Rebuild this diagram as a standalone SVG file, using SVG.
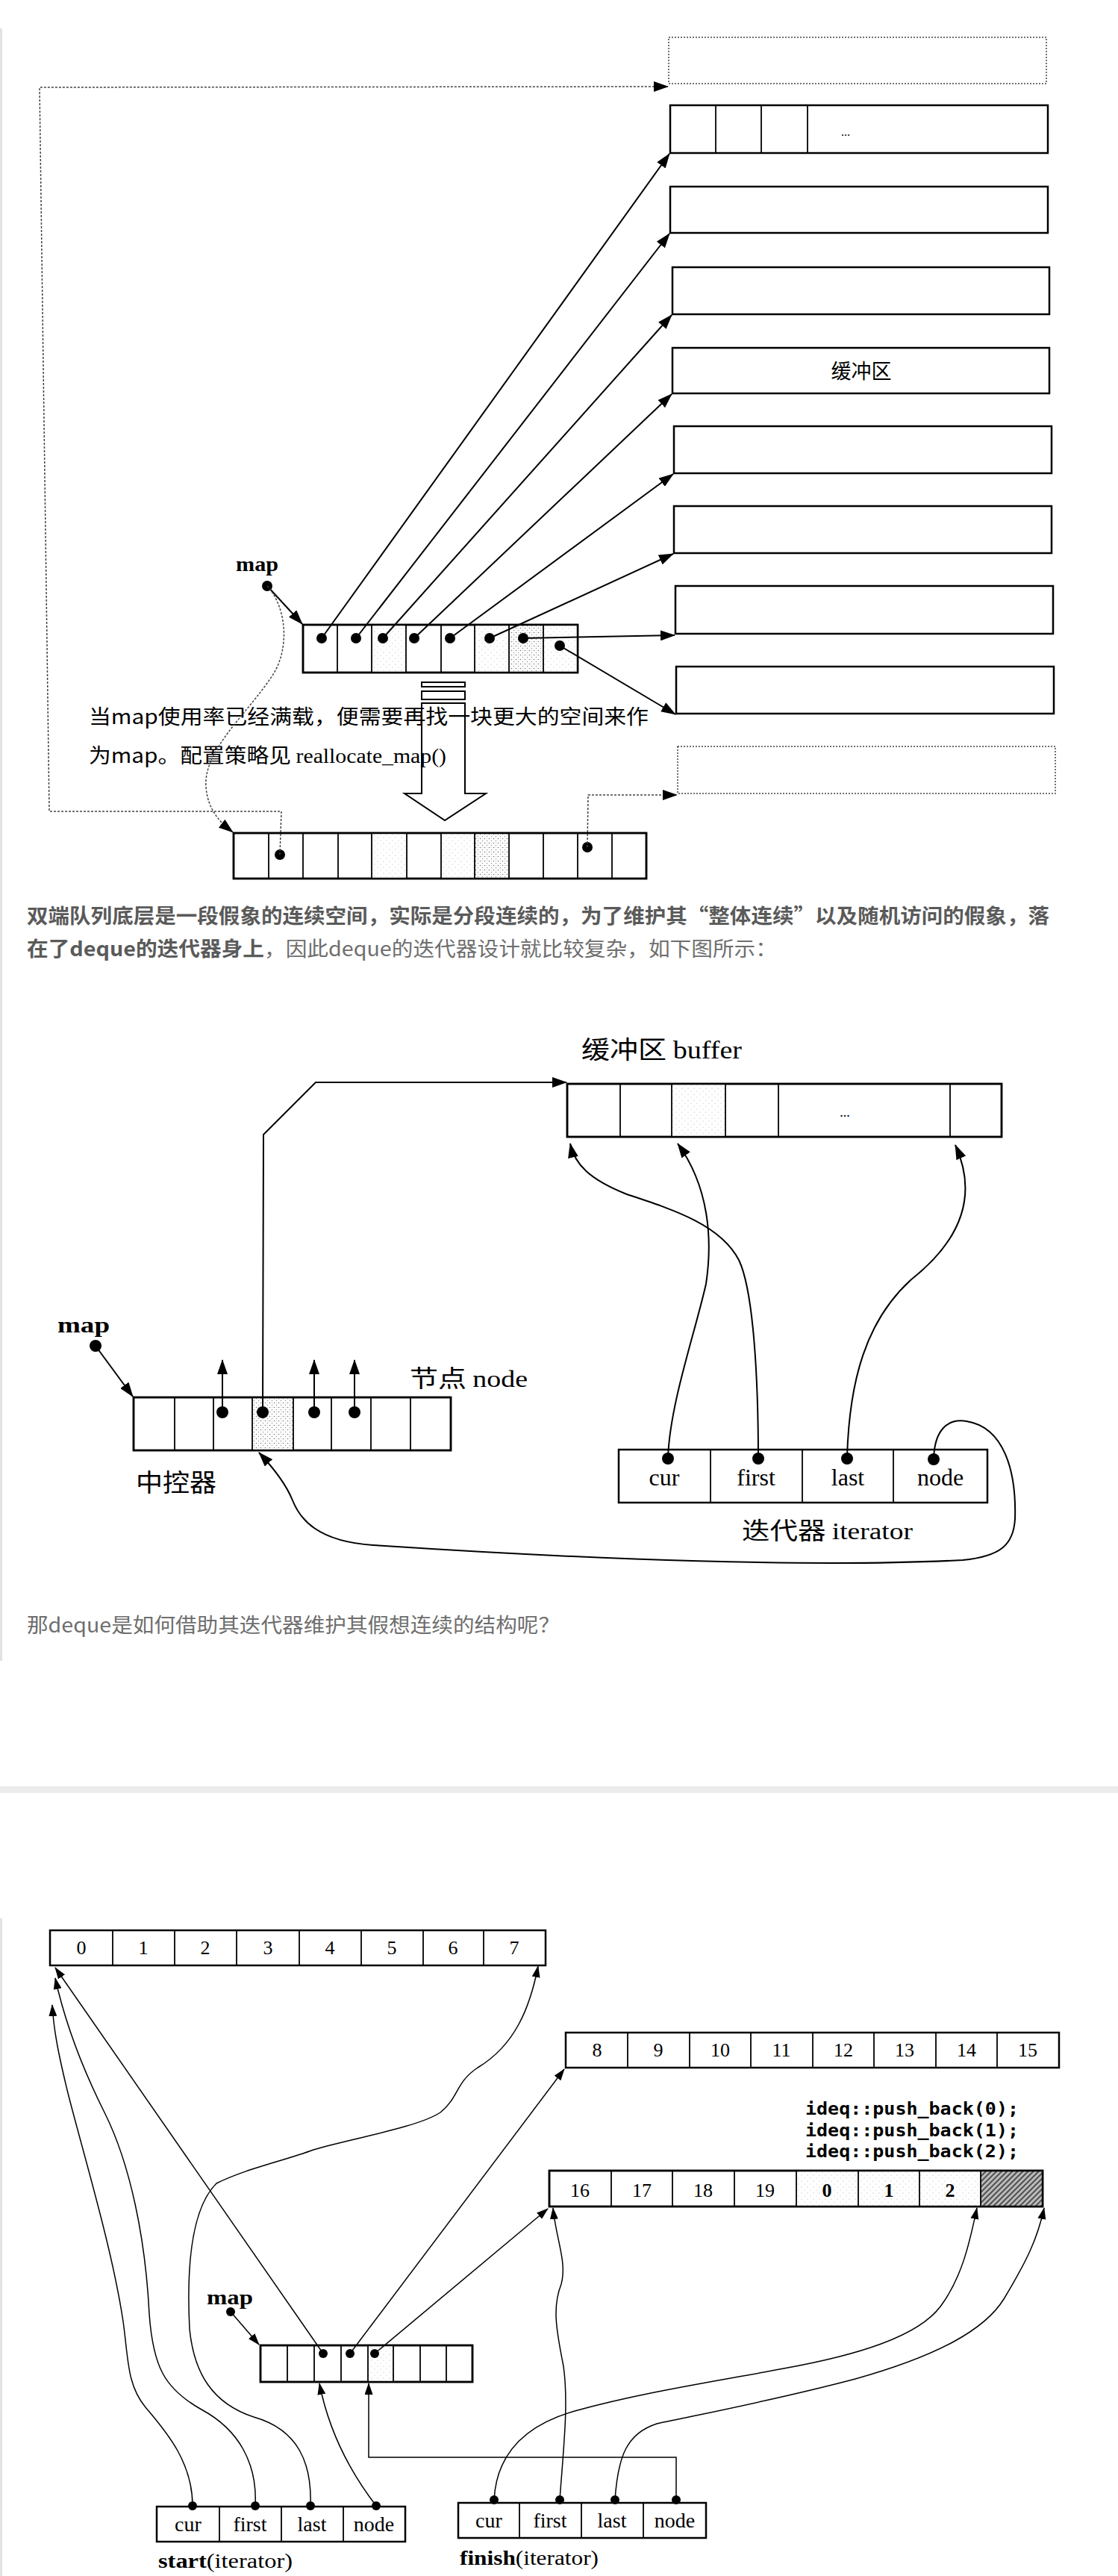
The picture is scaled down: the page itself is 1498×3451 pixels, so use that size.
<svg xmlns="http://www.w3.org/2000/svg" width="1498" height="3451" viewBox="0 0 1498 3451">
<defs>
<style>
.bx{fill:#fff;stroke:#000;stroke-width:2.5}
.cl{stroke:#000;stroke-width:1.8}
.dbx{fill:none;stroke:#444;stroke-width:1.5;stroke-dasharray:2 2}
.ln{fill:none;stroke:#000;stroke-width:2}
.ln3{fill:none;stroke:#000;stroke-width:1.5}
.dl{fill:none;stroke:#444;stroke-width:1.5;stroke-dasharray:3 2}
.dot{fill:#000}
.ser{font-family:'Liberation Serif','Noto Sans CJK SC',serif;fill:#000}
.cjk{font-family:'Noto Sans CJK SC','Liberation Sans',sans-serif;fill:#000}
.mono{font-family:'DejaVu Sans Mono','Liberation Mono',monospace;fill:#000;font-weight:bold}
.para{font-family:'Noto Sans CJK SC','Liberation Sans',sans-serif;font-size:27px;fill:#6e6e6e}
.b{font-weight:bold;fill:#5a5a5a}
</style>
<marker id="ah" markerUnits="userSpaceOnUse" markerWidth="20" markerHeight="14" refX="19" refY="7" orient="auto"><path d="M0,0 L20,7 L0,14 z" fill="#000"/></marker>
<marker id="ahs" markerUnits="userSpaceOnUse" markerWidth="16" markerHeight="11" refX="15" refY="5.5" orient="auto"><path d="M0,0 L16,5.5 L0,11 z" fill="#000"/></marker>
<pattern id="stip" width="6" height="6" patternUnits="userSpaceOnUse"><rect width="6" height="6" fill="#fff"/><circle cx="1.5" cy="1.5" r="0.8" fill="#777"/><circle cx="4.5" cy="4.5" r="0.8" fill="#999"/><circle cx="4.5" cy="1.5" r="0.5" fill="#bbb"/></pattern>
<pattern id="lstip" width="8" height="8" patternUnits="userSpaceOnUse"><rect width="8" height="8" fill="#fff"/><circle cx="2" cy="2" r="0.6" fill="#aaa"/><circle cx="6" cy="6" r="0.6" fill="#bbb"/></pattern>
<pattern id="hatch" width="5" height="5" patternUnits="userSpaceOnUse" patternTransform="rotate(45)"><rect width="5" height="5" fill="#bbb"/><line x1="1" y1="0" x2="1" y2="5" stroke="#333" stroke-width="1.6"/></pattern>
</defs>
<rect width="1498" height="3451" fill="#fff"/>

<!-- page chrome -->
<g id="page">
<rect x="0" y="38" width="3" height="2187" fill="#e2e2e2"/>
<rect x="0" y="2570" width="3" height="881" fill="#e2e2e2"/>
<rect x="0" y="2393" width="1498" height="9" fill="#ececec"/>
<text class="para" x="36" y="1237" textLength="1370" lengthAdjust="spacingAndGlyphs"><tspan class="b">双端队列底层是一段假象的连续空间，实际是分段连续的，为了维护其“整体连续”以及随机访问的假象，落</tspan></text>
<text class="para" x="36" y="1281" textLength="1005" lengthAdjust="spacingAndGlyphs"><tspan class="b">在了deque的迭代器身上</tspan>，因此deque的迭代器设计就比较复杂，如下图所示：</text>
<text class="para" x="36" y="2187" textLength="714" lengthAdjust="spacingAndGlyphs">那deque是如何借助其迭代器维护其假想连续的结构呢？</text>
</g>

<!-- ===== Diagram 1 ===== -->
<g id="d1-buf0"><rect class="dbx" x="896" y="50" width="506" height="62"/></g>
<g id="d1-buf1"><rect class="bx" x="898" y="141" width="506" height="64"/>
<line class="cl" x1="959" y1="141" x2="959" y2="205"/><line class="cl" x1="1020" y1="141" x2="1020" y2="205"/><line class="cl" x1="1082" y1="141" x2="1082" y2="205"/>
<text class="ser" x="1127" y="182" font-size="16">...</text></g>
<g id="d1-buf2"><rect class="bx" x="898" y="250" width="506" height="62"/></g>
<g id="d1-buf3"><rect class="bx" x="901" y="358" width="505" height="63"/></g>
<g id="d1-buf4"><rect class="bx" x="901" y="466" width="505" height="61"/>
<text class="cjk" x="1154" y="507" font-size="27" text-anchor="middle">缓冲区</text></g>
<g id="d1-buf5"><rect class="bx" x="903" y="571" width="506" height="63"/></g>
<g id="d1-buf6"><rect class="bx" x="903" y="678" width="506" height="63"/></g>
<g id="d1-buf7"><rect class="bx" x="905" y="785" width="506" height="64"/></g>
<g id="d1-buf8"><rect class="bx" x="906" y="893" width="506" height="63"/></g>
<g id="d1-buf9"><rect class="dbx" x="908" y="1000" width="506" height="63"/></g>

<g id="d1-map">
<text class="ser" x="316" y="765" font-size="28" font-weight="bold" textLength="57" lengthAdjust="spacingAndGlyphs">map</text>
<circle class="dot" cx="358" cy="785" r="7"/>
</g>
<g id="d1-mapArray">
<rect class="bx" x="406" y="837" width="368" height="64"/>
<rect x="498" y="838" width="46" height="62" fill="url(#lstip)"/>
<rect x="636" y="838" width="46" height="62" fill="url(#lstip)"/>
<rect x="682" y="838" width="46" height="62" fill="url(#stip)"/>
<rect x="728" y="838" width="46" height="62" fill="url(#lstip)"/>
<rect x="406" y="837" width="368" height="64" fill="none" stroke="#000" stroke-width="2.5"/>
<line class="cl" x1="452" y1="837" x2="452" y2="901"/><line class="cl" x1="498" y1="837" x2="498" y2="901"/><line class="cl" x1="544" y1="837" x2="544" y2="901"/><line class="cl" x1="591" y1="837" x2="591" y2="901"/><line class="cl" x1="636" y1="837" x2="636" y2="901"/><line class="cl" x1="682" y1="837" x2="682" y2="901"/><line class="cl" x1="728" y1="837" x2="728" y2="901"/>
<circle class="dot" cx="431" cy="855" r="7"/><circle class="dot" cx="477" cy="855" r="7"/><circle class="dot" cx="513" cy="855" r="7"/><circle class="dot" cx="555" cy="855" r="7"/><circle class="dot" cx="603" cy="855" r="7"/><circle class="dot" cx="656" cy="855" r="7"/><circle class="dot" cx="701" cy="855" r="7"/><circle class="dot" cx="750" cy="865" r="7"/>
</g>

<g id="d1-bigArrow">
<rect x="565" y="914" width="58" height="6" fill="#fff" stroke="#000" stroke-width="2"/>
<rect x="565" y="926" width="58" height="11" fill="#fff" stroke="#000" stroke-width="2"/>
<path d="M565,942 L623,942 L623,1063 L651,1063 L596,1099 L542,1063 L565,1063 Z" fill="#fff" stroke="#000" stroke-width="2"/>
</g>

<g id="d1-note">
<text class="cjk" x="119" y="970" font-size="27" textLength="750" lengthAdjust="spacingAndGlyphs">当map使用率已经满载，便需要再找一块更大的空间来作</text>
<text x="119" y="1022" font-size="27" textLength="479" lengthAdjust="spacingAndGlyphs"><tspan class="cjk">为map。配置策略见 </tspan><tspan class="ser">reallocate_map()</tspan></text>
</g>

<g id="d1-newMap">
<rect class="bx" x="313" y="1116" width="553" height="61"/>
<rect x="498" y="1117" width="47" height="59" fill="url(#lstip)"/>
<rect x="591" y="1117" width="45" height="59" fill="url(#lstip)"/>
<rect x="636" y="1117" width="46" height="59" fill="url(#stip)"/>
<rect x="313" y="1116" width="553" height="61" fill="none" stroke="#000" stroke-width="2.5"/>
<line class="cl" x1="360" y1="1116" x2="360" y2="1177"/><line class="cl" x1="406" y1="1116" x2="406" y2="1177"/><line class="cl" x1="453" y1="1116" x2="453" y2="1177"/><line class="cl" x1="498" y1="1116" x2="498" y2="1177"/><line class="cl" x1="545" y1="1116" x2="545" y2="1177"/><line class="cl" x1="591" y1="1116" x2="591" y2="1177"/><line class="cl" x1="636" y1="1116" x2="636" y2="1177"/><line class="cl" x1="682" y1="1116" x2="682" y2="1177"/><line class="cl" x1="728" y1="1116" x2="728" y2="1177"/><line class="cl" x1="774" y1="1116" x2="774" y2="1177"/><line class="cl" x1="820" y1="1116" x2="820" y2="1177"/>
<circle class="dot" cx="375" cy="1145" r="7"/><circle class="dot" cx="787" cy="1135" r="7"/>
</g>

<g id="d1-connectors">
<line class="ln" x1="358" y1="785" x2="405" y2="836" marker-end="url(#ah)"/>
<line class="ln" x1="431" y1="855" x2="897" y2="206" marker-end="url(#ah)"/>
<line class="ln" x1="477" y1="855" x2="897" y2="313" marker-end="url(#ah)"/>
<line class="ln" x1="513" y1="855" x2="900" y2="422" marker-end="url(#ah)"/>
<line class="ln" x1="555" y1="855" x2="900" y2="528" marker-end="url(#ah)"/>
<line class="ln" x1="603" y1="855" x2="902" y2="635" marker-end="url(#ah)"/>
<line class="ln" x1="656" y1="855" x2="902" y2="742" marker-end="url(#ah)"/>
<line class="ln" x1="701" y1="855" x2="904" y2="851" marker-end="url(#ah)"/>
<line class="ln" x1="750" y1="865" x2="905" y2="957" marker-end="url(#ah)"/>
<path class="dl" d="M375,1145 L377,1087 L66,1087 L53,117 L895,116" marker-end="url(#ah)"/>
<path class="dl" d="M787,1135 L788,1065 L907,1065" marker-end="url(#ah)"/>
<path class="dl" d="M358,785 C385,815 388,870 365,905 C330,958 272,1005 276,1055 C279,1088 298,1104 312,1115" marker-end="url(#ah)"/>
</g>

<!-- ===== Diagram 2 ===== -->
<g id="d2-buffer">
<text x="779" y="1418" font-size="33" textLength="215" lengthAdjust="spacingAndGlyphs"><tspan class="cjk">缓冲区 </tspan><tspan class="ser">buffer</tspan></text>
<rect class="bx" x="760" y="1452" width="582" height="71"/>
<rect x="900" y="1453" width="72" height="69" fill="url(#lstip)"/>
<rect x="760" y="1452" width="582" height="71" fill="none" stroke="#000" stroke-width="2.5"/>
<line class="cl" x1="831" y1="1452" x2="831" y2="1523"/><line class="cl" x1="900" y1="1452" x2="900" y2="1523"/><line class="cl" x1="972" y1="1452" x2="972" y2="1523"/><line class="cl" x1="1043" y1="1452" x2="1043" y2="1523"/><line class="cl" x1="1273" y1="1452" x2="1273" y2="1523"/>
<text class="ser" x="1132" y="1496" font-size="18" text-anchor="middle">...</text>
</g>
<g id="d2-map">
<text class="ser" x="77" y="1785" font-size="30" font-weight="bold" textLength="70" lengthAdjust="spacingAndGlyphs">map</text>
<circle class="dot" cx="128" cy="1803" r="8"/>
</g>
<g id="d2-mapArray">
<rect class="bx" x="179" y="1872" width="425" height="71"/>
<rect x="338" y="1873" width="55" height="69" fill="url(#stip)"/>
<rect x="179" y="1872" width="425" height="71" fill="none" stroke="#000" stroke-width="2.5"/>
<line class="cl" x1="234" y1="1872" x2="234" y2="1943"/><line class="cl" x1="286" y1="1872" x2="286" y2="1943"/><line class="cl" x1="338" y1="1872" x2="338" y2="1943"/><line class="cl" x1="393" y1="1872" x2="393" y2="1943"/><line class="cl" x1="444" y1="1872" x2="444" y2="1943"/><line class="cl" x1="497" y1="1872" x2="497" y2="1943"/><line class="cl" x1="550" y1="1872" x2="550" y2="1943"/>
<circle class="dot" cx="298" cy="1892" r="8"/><circle class="dot" cx="352" cy="1892" r="8"/><circle class="dot" cx="421" cy="1892" r="8"/><circle class="dot" cx="475" cy="1892" r="8"/>
<text class="ser" x="549" y="1858" font-size="32" textLength="158" lengthAdjust="spacingAndGlyphs"><tspan class="cjk">节点 </tspan>node</text>
<text class="cjk" x="182" y="1998" font-size="33" textLength="108" lengthAdjust="spacingAndGlyphs">中控器</text>
</g>
<g id="d2-iterator">
<rect class="bx" x="829" y="1942" width="494" height="71"/>
<line class="cl" x1="952" y1="1942" x2="952" y2="2013"/><line class="cl" x1="1075" y1="1942" x2="1075" y2="2013"/><line class="cl" x1="1197" y1="1942" x2="1197" y2="2013"/>
<text class="ser" x="890" y="1990" font-size="32" text-anchor="middle">cur</text>
<text class="ser" x="1013" y="1990" font-size="32" text-anchor="middle">first</text>
<text class="ser" x="1136" y="1990" font-size="32" text-anchor="middle">last</text>
<text class="ser" x="1260" y="1990" font-size="32" text-anchor="middle">node</text>
<circle class="dot" cx="895" cy="1954" r="8"/><circle class="dot" cx="1016" cy="1954" r="8"/><circle class="dot" cx="1135" cy="1954" r="8"/><circle class="dot" cx="1251" cy="1955" r="8"/>
<text x="994" y="2062" font-size="32" textLength="229" lengthAdjust="spacingAndGlyphs"><tspan class="cjk">迭代器 </tspan><tspan class="ser">iterator</tspan></text>
</g>
<g id="d2-connectors">
<line class="ln" x1="128" y1="1803" x2="178" y2="1871" marker-end="url(#ah)"/>
<line class="ln" x1="298" y1="1892" x2="298" y2="1822" marker-end="url(#ah)"/>
<line class="ln" x1="421" y1="1892" x2="421" y2="1822" marker-end="url(#ah)"/>
<line class="ln" x1="475" y1="1892" x2="475" y2="1822" marker-end="url(#ah)"/>
<path class="ln" d="M352,1892 L353,1520 L423,1450 L759,1450" marker-end="url(#ah)"/>
<path class="ln" d="M895,1952 C898,1880 930,1790 946,1720 C955,1660 950,1590 908,1532" marker-end="url(#ah)"/>
<path class="ln" d="M1016,1954 C1016,1850 1010,1730 990,1688 C965,1640 900,1620 840,1600 C790,1580 770,1560 764,1532" marker-end="url(#ah)"/>
<path class="ln" d="M1135,1952 C1138,1850 1160,1770 1220,1715 C1290,1660 1310,1600 1280,1534" marker-end="url(#ah)"/>
<path class="ln" d="M1251,1955 C1252,1915 1270,1900 1295,1904 C1345,1912 1362,1970 1360,2035 C1358,2070 1340,2085 1290,2090 C1100,2100 800,2090 500,2070 C425,2065 402,2035 392,2010 C382,1985 362,1962 347,1946" marker-end="url(#ah)"/>
</g>

<!-- ===== Diagram 3 ===== -->
<g id="d3-bufA">
<rect class="bx" x="67" y="2586" width="664" height="47"/>
<line class="cl" x1="151" y1="2586" x2="151" y2="2633"/><line class="cl" x1="234" y1="2586" x2="234" y2="2633"/><line class="cl" x1="317" y1="2586" x2="317" y2="2633"/><line class="cl" x1="401" y1="2586" x2="401" y2="2633"/><line class="cl" x1="484" y1="2586" x2="484" y2="2633"/><line class="cl" x1="567" y1="2586" x2="567" y2="2633"/><line class="cl" x1="648" y1="2586" x2="648" y2="2633"/>
<g class="ser" font-size="26" text-anchor="middle">
<text x="109" y="2618">0</text><text x="192" y="2618">1</text><text x="275" y="2618">2</text><text x="359" y="2618">3</text><text x="442" y="2618">4</text><text x="525" y="2618">5</text><text x="607" y="2618">6</text><text x="689" y="2618">7</text>
</g></g>
<g id="d3-bufB">
<rect class="bx" x="758" y="2723" width="661" height="47"/>
<line class="cl" x1="841" y1="2723" x2="841" y2="2770"/><line class="cl" x1="924" y1="2723" x2="924" y2="2770"/><line class="cl" x1="1006" y1="2723" x2="1006" y2="2770"/><line class="cl" x1="1089" y1="2723" x2="1089" y2="2770"/><line class="cl" x1="1171" y1="2723" x2="1171" y2="2770"/><line class="cl" x1="1254" y1="2723" x2="1254" y2="2770"/><line class="cl" x1="1336" y1="2723" x2="1336" y2="2770"/>
<g class="ser" font-size="26" text-anchor="middle">
<text x="800" y="2755">8</text><text x="882" y="2755">9</text><text x="965" y="2755">10</text><text x="1047" y="2755">11</text><text x="1130" y="2755">12</text><text x="1212" y="2755">13</text><text x="1295" y="2755">14</text><text x="1377" y="2755">15</text>
</g></g>
<g id="d3-code">
<text class="mono" x="1079" y="2833" font-size="23" textLength="286" lengthAdjust="spacingAndGlyphs">ideq::push_back(0);</text>
<text class="mono" x="1079" y="2862" font-size="23" textLength="286" lengthAdjust="spacingAndGlyphs">ideq::push_back(1);</text>
<text class="mono" x="1079" y="2890" font-size="23" textLength="286" lengthAdjust="spacingAndGlyphs">ideq::push_back(2);</text>
</g>
<g id="d3-bufC">
<rect class="bx" x="736" y="2908" width="661" height="48"/>
<rect x="1067" y="2909" width="247" height="46" fill="url(#lstip)"/>
<rect x="1314" y="2909" width="83" height="46" fill="url(#hatch)"/>
<rect x="736" y="2908" width="661" height="48" fill="none" stroke="#000" stroke-width="2.5"/>
<line class="cl" x1="819" y1="2908" x2="819" y2="2956"/><line class="cl" x1="901" y1="2908" x2="901" y2="2956"/><line class="cl" x1="984" y1="2908" x2="984" y2="2956"/><line class="cl" x1="1067" y1="2908" x2="1067" y2="2956"/><line class="cl" x1="1150" y1="2908" x2="1150" y2="2956"/><line class="cl" x1="1232" y1="2908" x2="1232" y2="2956"/><line class="cl" x1="1314" y1="2908" x2="1314" y2="2956"/>
<g class="ser" font-size="26" text-anchor="middle">
<text x="777" y="2943">16</text><text x="860" y="2943">17</text><text x="942" y="2943">18</text><text x="1025" y="2943">19</text><text x="1108" y="2943" font-weight="bold">0</text><text x="1191" y="2943" font-weight="bold">1</text><text x="1273" y="2943" font-weight="bold">2</text>
</g></g>
<g id="d3-map">
<text class="ser" x="277" y="3087" font-size="28" font-weight="bold" textLength="62" lengthAdjust="spacingAndGlyphs">map</text>
<circle class="dot" cx="309" cy="3097" r="6"/>
</g>
<g id="d3-mapArray">
<rect class="bx" x="349" y="3142" width="284" height="49"/>
<rect x="493" y="3143" width="34" height="47" fill="url(#lstip)"/>
<rect x="349" y="3142" width="284" height="49" fill="none" stroke="#000" stroke-width="2.5"/>
<line class="cl" x1="385" y1="3142" x2="385" y2="3191"/><line class="cl" x1="421" y1="3142" x2="421" y2="3191"/><line class="cl" x1="457" y1="3142" x2="457" y2="3191"/><line class="cl" x1="493" y1="3142" x2="493" y2="3191"/><line class="cl" x1="527" y1="3142" x2="527" y2="3191"/><line class="cl" x1="563" y1="3142" x2="563" y2="3191"/><line class="cl" x1="598" y1="3142" x2="598" y2="3191"/>
<circle class="dot" cx="433" cy="3153" r="6"/><circle class="dot" cx="469" cy="3153" r="6"/><circle class="dot" cx="502" cy="3153" r="6"/>
</g>
<g id="d3-start">
<rect class="bx" x="210" y="3358" width="333" height="47"/>
<line class="cl" x1="294" y1="3358" x2="294" y2="3405"/><line class="cl" x1="377" y1="3358" x2="377" y2="3405"/><line class="cl" x1="460" y1="3358" x2="460" y2="3405"/>
<g class="ser" font-size="28" text-anchor="middle"><text x="252" y="3391">cur</text><text x="335" y="3391">first</text><text x="418" y="3391">last</text><text x="501" y="3391">node</text></g>
<circle class="dot" cx="258" cy="3357" r="6"/><circle class="dot" cx="342" cy="3357" r="6"/><circle class="dot" cx="416" cy="3357" r="6"/><circle class="dot" cx="504" cy="3357" r="6"/>
<text class="ser" x="212" y="3440" font-size="28" textLength="180" lengthAdjust="spacingAndGlyphs"><tspan font-weight="bold">start</tspan>(iterator)</text>
</g>
<g id="d3-finish">
<rect class="bx" x="614" y="3353" width="332" height="47"/>
<line class="cl" x1="696" y1="3353" x2="696" y2="3400"/><line class="cl" x1="779" y1="3353" x2="779" y2="3400"/><line class="cl" x1="862" y1="3353" x2="862" y2="3400"/>
<g class="ser" font-size="28" text-anchor="middle"><text x="655" y="3386">cur</text><text x="737" y="3386">first</text><text x="820" y="3386">last</text><text x="904" y="3386">node</text></g>
<circle class="dot" cx="662" cy="3349" r="6"/><circle class="dot" cx="750" cy="3349" r="6"/><circle class="dot" cx="824" cy="3349" r="6"/><circle class="dot" cx="906" cy="3349" r="6"/>
<text class="ser" x="616" y="3436" font-size="28" textLength="186" lengthAdjust="spacingAndGlyphs"><tspan font-weight="bold">finish</tspan>(iterator)</text>
</g>
<g id="d3-connectors">
<line class="ln3" x1="309" y1="3097" x2="347" y2="3141" marker-end="url(#ahs)"/>
<line class="ln3" x1="433" y1="3153" x2="74" y2="2636" marker-end="url(#ahs)"/>
<line class="ln3" x1="469" y1="3153" x2="756" y2="2772" marker-end="url(#ahs)"/>
<line class="ln3" x1="502" y1="3153" x2="734" y2="2959" marker-end="url(#ahs)"/>
<path class="ln3" d="M258,3357 C258,3300 225,3260 195,3225 C170,3195 172,3160 165,3110 C150,3010 110,2880 90,2800 C78,2750 72,2720 70,2686" marker-end="url(#ahs)"/>
<path class="ln3" d="M342,3357 C345,3300 320,3255 270,3228 C220,3200 205,3170 200,3100 C195,3000 175,2900 140,2830 C105,2760 85,2700 74,2650" marker-end="url(#ahs)"/>
<path class="ln3" d="M416,3357 C418,3300 400,3255 340,3238 C285,3220 260,3180 254,3120 C250,3040 255,2960 290,2925 C330,2905 380,2895 420,2880 C470,2865 560,2850 590,2830 C615,2810 610,2790 640,2770 C690,2740 710,2690 721,2634" marker-end="url(#ahs)"/>
<path class="ln3" d="M504,3357 Q445,3280 428,3193" marker-end="url(#ahs)"/>
<path class="ln3" d="M906,3349 L906,3292 L494,3292 L494,3193" marker-end="url(#ahs)"/>
<path class="ln3" d="M662,3349 C665,3290 700,3250 770,3230 C860,3205 960,3190 1050,3173 C1150,3155 1230,3130 1260,3090 C1290,3050 1300,3000 1309,2958" marker-end="url(#ahs)"/>
<path class="ln3" d="M750,3349 C755,3280 762,3220 755,3170 C745,3120 740,3090 752,3060 C760,3030 745,3000 741,2958" marker-end="url(#ahs)"/>
<path class="ln3" d="M824,3349 C828,3290 840,3260 880,3247 C950,3232 1040,3215 1146,3187 C1260,3155 1320,3120 1345,3080 C1375,3030 1390,3000 1399,2958" marker-end="url(#ahs)"/>
</g>
</svg>
